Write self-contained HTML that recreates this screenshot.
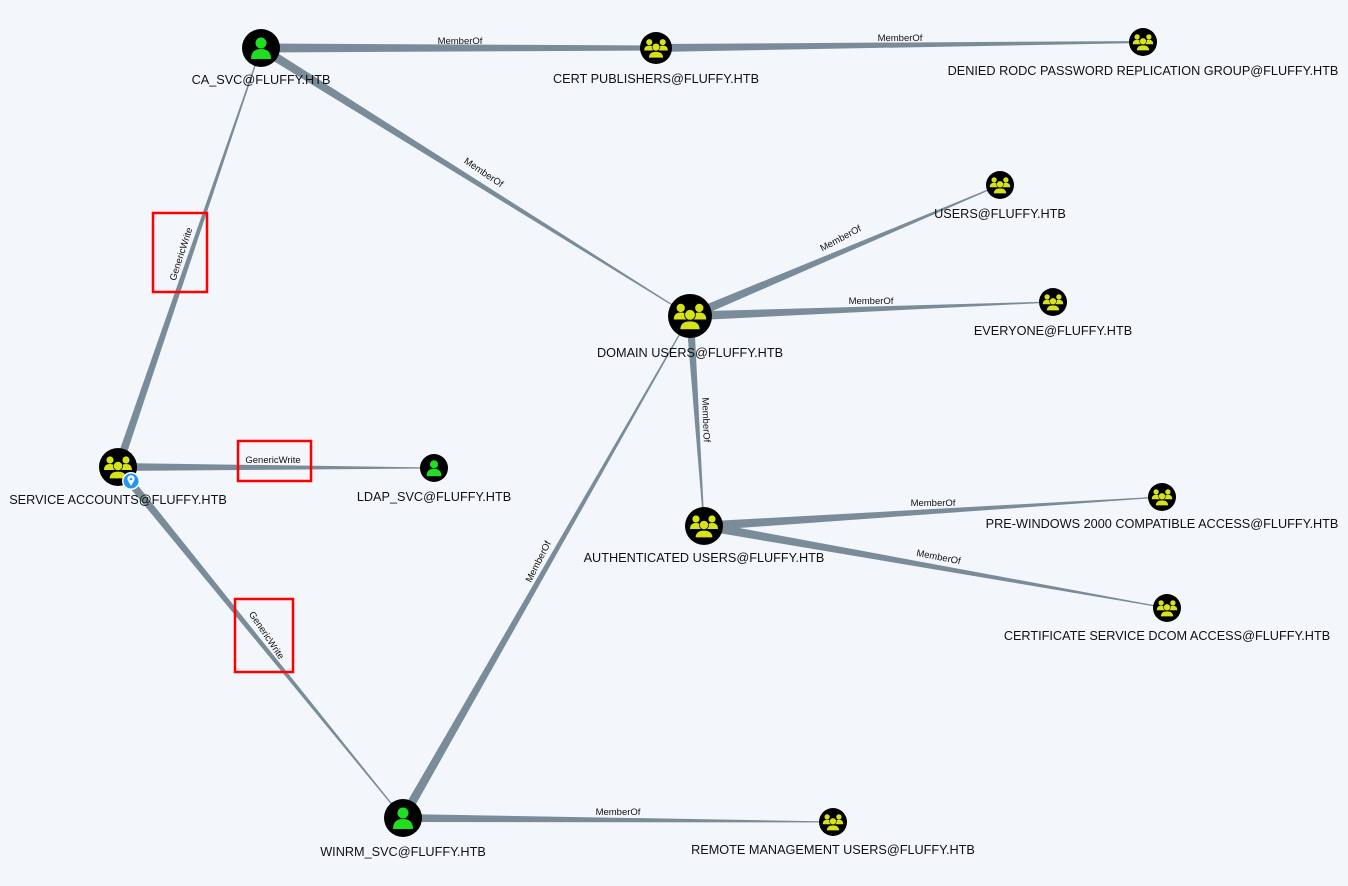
<!DOCTYPE html>
<html><head><meta charset="utf-8"><style>
html,body{margin:0;padding:0;background:#f3f6fa;}
svg{display:block;font-family:"Liberation Sans",sans-serif;}
.nl{font-size:12.7px;fill:#111;text-anchor:middle;}
.el{font-size:9.5px;fill:#111;text-anchor:middle;}
</style></head><body>
<svg id="s" width="1348" height="886" viewBox="0 0 1348 886" xmlns="http://www.w3.org/2000/svg">
<g id="edges" fill="#7a8c99"></g>
<rect x="153" y="213" width="54" height="79" fill="none" stroke="#f00" stroke-width="2.5"/>
<rect x="238" y="441" width="73" height="40" fill="none" stroke="#f00" stroke-width="2.5"/>
<rect x="235" y="599" width="58" height="73" fill="none" stroke="#f00" stroke-width="2.5"/>
<g class="el">
<text x="460" y="44">MemberOf</text>
<text x="900" y="41">MemberOf</text>
<text transform="translate(482,175) rotate(34)">MemberOf</text>
<text transform="translate(842,241) rotate(-28)">MemberOf</text>
<text x="871" y="304">MemberOf</text>
<text transform="translate(703,420) rotate(88)">MemberOf</text>
<text x="933" y="506">MemberOf</text>
<text transform="translate(938,560) rotate(11)">MemberOf</text>
<text transform="translate(541,563) rotate(-63)">MemberOf</text>
<text x="618" y="815">MemberOf</text>
<text transform="translate(184,255) rotate(-72)">GenericWrite</text>
<text x="273" y="463">GenericWrite</text>
<text transform="translate(264,637) rotate(56)">GenericWrite</text>
</g>
<g id="nodes"></g>
<g class="nl">
<text x="261" y="84">CA_SVC@FLUFFY.HTB</text>
<text x="656" y="83">CERT PUBLISHERS@FLUFFY.HTB</text>
<text x="1143" y="75">DENIED RODC PASSWORD REPLICATION GROUP@FLUFFY.HTB</text>
<text x="1000" y="218">USERS@FLUFFY.HTB</text>
<text x="1053" y="335">EVERYONE@FLUFFY.HTB</text>
<text x="690" y="357">DOMAIN USERS@FLUFFY.HTB</text>
<text x="118" y="504">SERVICE ACCOUNTS@FLUFFY.HTB</text>
<text x="434" y="501">LDAP_SVC@FLUFFY.HTB</text>
<text x="704" y="562">AUTHENTICATED USERS@FLUFFY.HTB</text>
<text x="1162" y="528">PRE-WINDOWS 2000 COMPATIBLE ACCESS@FLUFFY.HTB</text>
<text x="1167" y="640">CERTIFICATE SERVICE DCOM ACCESS@FLUFFY.HTB</text>
<text x="403" y="856">WINRM_SVC@FLUFFY.HTB</text>
<text x="833" y="854">REMOTE MANAGEMENT USERS@FLUFFY.HTB</text>
</g>
</svg>
<script>
var N={ca:[261,48,19,'u'],cp:[656,48,16,'g'],dr:[1143,42,14,'g'],us:[1000,185,14,'g'],ev:[1053,302,14,'g'],du:[690,316,22,'g'],sa:[118,467,19,'g'],ld:[434,468,14,'u'],au:[704,526,19,'g'],pw:[1162,497,14,'g'],cd:[1167,608,14,'g'],wr:[403,818,19,'u'],rm:[833,822,14,'g']};
var E=[['ca','cp',9,5],['cp','dr',8,2],['ca','du',9,1],['sa','ca',8,1],['sa','ld',8,1],['sa','wr',8,1],['wr','du',9,1],['wr','rm',8,1],['du','us',9,1],['du','ev',9,1],['du','au',8,1],['au','pw',9,1],['au','cd',9,1]];
var ns='http://www.w3.org/2000/svg',eg=document.getElementById('edges'),ng=document.getElementById('nodes');
E.forEach(function(e){var a=N[e[0]],b=N[e[1]];var dx=b[0]-a[0],dy=b[1]-a[1],L=Math.hypot(dx,dy),px=-dy/L,py=dx/L,w1=e[2]/2,w2=e[3]/2;
var p=[[a[0]+px*w1,a[1]+py*w1],[b[0]+px*w2,b[1]+py*w2],[b[0]-px*w2,b[1]-py*w2],[a[0]-px*w1,a[1]-py*w1]];
var pg=document.createElementNS(ns,'polygon');pg.setAttribute('points',p.map(function(q){return q.join(',')}).join(' '));eg.appendChild(pg);});
function el(t,at,par){var x=document.createElementNS(ns,t);for(var k in at)x.setAttribute(k,at[k]);par.appendChild(x);return x;}
for(var k in N){var n=N[k],x=n[0],y=n[1],r=n[2];var g=el('g',{transform:'translate('+x+','+y+')'},ng);
el('circle',{r:r,fill:'#000'},g);var s=r/19;
if(n[3]=='u'){el('circle',{cx:0,cy:-5*s,r:5.5*s,fill:'#1ee01e'},g);el('path',{d:'M'+(-10*s)+','+(11*s)+' Q'+(-10*s)+','+(1*s)+' 0,'+(1*s)+' Q'+(10*s)+','+(1*s)+' '+(10*s)+','+(11*s)+' Z',fill:'#1ee01e'},g);}
else{var c='#d6e21a';
el('circle',{cx:-8*s,cy:-7*s,r:3.6*s,fill:c},g);el('circle',{cx:8*s,cy:-7*s,r:3.6*s,fill:c},g);
el('path',{d:'M'+(-14*s)+','+(3*s)+' Q'+(-14*s)+','+(-3*s)+' '+(-8*s)+','+(-3*s)+' Q'+(-2*s)+','+(-3*s)+' '+(-2*s)+','+(3*s)+'Z',fill:c},g);
el('path',{d:'M'+(2*s)+','+(3*s)+' Q'+(2*s)+','+(-3*s)+' '+(8*s)+','+(-3*s)+' Q'+(14*s)+','+(-3*s)+' '+(14*s)+','+(3*s)+'Z',fill:c},g);
el('circle',{cx:0,cy:-1*s,r:5*s,fill:'#000'},g);el('circle',{cx:0,cy:-1*s,r:4.3*s,fill:c},g);
el('path',{d:'M'+(-9*s)+','+(12*s)+' Q'+(-9*s)+','+(4*s)+' 0,'+(4*s)+' Q'+(9*s)+','+(4*s)+' '+(9*s)+','+(12*s)+'Z',fill:c,stroke:'#000','stroke-width':1.2*s},g);}
}
var b=el('g',{transform:'translate(131,481)'},ng);el('circle',{r:9,fill:'#fff'},b);el('circle',{r:7.5,fill:'#2196f3'},b);
el('path',{d:'M0,5 L-3.2,-0.5 A3.6,3.6 0 1 1 3.2,-0.5 Z',fill:'#fff'},b);el('circle',{cx:0,cy:-2,r:1.3,fill:'#2196f3'},b);
</script>
</body></html>
